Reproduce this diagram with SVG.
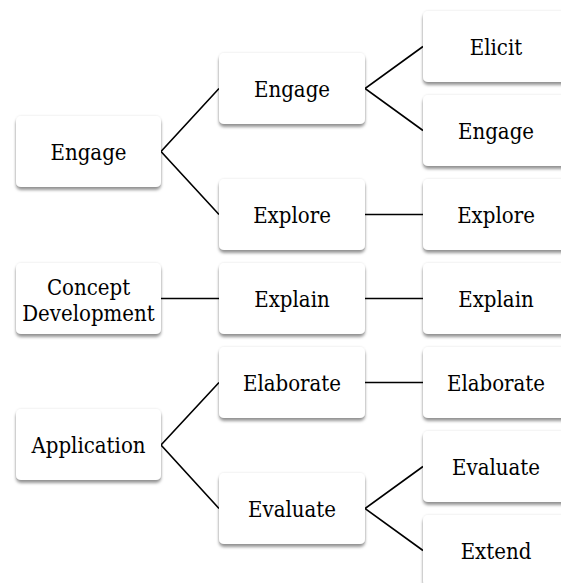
<svg xmlns="http://www.w3.org/2000/svg" width="561" height="583" viewBox="0 0 561 583">
<defs>
<filter id="sh" x="-10%" y="-10%" width="120%" height="130%">
<feDropShadow dx="0" dy="0" stdDeviation="0.8" flood-color="#000" flood-opacity="0.12"/>
<feDropShadow dx="0" dy="3" stdDeviation="1.8" flood-color="#000" flood-opacity="0.4"/>
</filter>
</defs>
<style>
.box{fill:#fff;filter:url(#sh)}
.t{font-family:"DejaVu Serif Condensed","DejaVu Serif",serif;font-stretch:condensed;font-size:22px;fill:#000;text-anchor:middle}
.c{stroke:#000;stroke-width:1.6;fill:none}
</style>
<rect width="561" height="583" fill="#fff"/>
<g id="connectors">
<polyline class="c" points="219,88.5 161,151.5 219,214.5"/>
<polyline class="c" points="423,46.5 365,88.5 423,130.5"/>
<line class="c" x1="365" y1="214.5" x2="423" y2="214.5"/>
<line class="c" x1="161" y1="298.5" x2="219" y2="298.5"/>
<line class="c" x1="365" y1="298.5" x2="423" y2="298.5"/>
<polyline class="c" points="219,382.5 161,445 219,508.5"/>
<line class="c" x1="365" y1="382.5" x2="423" y2="382.5"/>
<polyline class="c" points="423,466.5 365,508.5 423,550.5"/>
</g>
<g id="n-engage1"><rect class="box" x="16" y="116" width="145" height="71" rx="5"/><text class="t" x="88.5" y="159.5">Engage</text></g>
<g id="n-concept"><rect class="box" x="16" y="263" width="145" height="71" rx="5"/><text class="t" x="88.5" y="294.5">Concept</text><text class="t" x="88.5" y="321">Development</text></g>
<g id="n-application"><rect class="box" x="16" y="409" width="145" height="71" rx="5"/><text class="t" x="88.5" y="452.5">Application</text></g>
<g id="n-engage2"><rect class="box" x="219" y="53" width="146" height="71" rx="5"/><text class="t" x="292" y="96.5">Engage</text></g>
<g id="n-explore2"><rect class="box" x="219" y="179" width="146" height="71" rx="5"/><text class="t" x="292" y="222.5">Explore</text></g>
<g id="n-explain2"><rect class="box" x="219" y="263" width="146" height="71" rx="5"/><text class="t" x="292" y="306.5">Explain</text></g>
<g id="n-elaborate2"><rect class="box" x="219" y="347" width="146" height="71" rx="5"/><text class="t" x="292" y="390.5">Elaborate</text></g>
<g id="n-evaluate2"><rect class="box" x="219" y="473" width="146" height="71" rx="5"/><text class="t" x="292" y="516.5">Evaluate</text></g>
<g id="n-elicit"><rect class="box" x="423" y="11" width="146" height="71" rx="5"/><text class="t" x="496" y="54.5">Elicit</text></g>
<g id="n-engage3"><rect class="box" x="423" y="95" width="146" height="71" rx="5"/><text class="t" x="496" y="138.5">Engage</text></g>
<g id="n-explore3"><rect class="box" x="423" y="179" width="146" height="71" rx="5"/><text class="t" x="496" y="222.5">Explore</text></g>
<g id="n-explain3"><rect class="box" x="423" y="263" width="146" height="71" rx="5"/><text class="t" x="496" y="306.5">Explain</text></g>
<g id="n-elaborate3"><rect class="box" x="423" y="347" width="146" height="71" rx="5"/><text class="t" x="496" y="390.5">Elaborate</text></g>
<g id="n-evaluate3"><rect class="box" x="423" y="431" width="146" height="71" rx="5"/><text class="t" x="496" y="474.5">Evaluate</text></g>
<g id="n-extend"><rect class="box" x="423" y="515" width="146" height="71" rx="5"/><text class="t" x="496" y="558.5">Extend</text></g>
</svg>
